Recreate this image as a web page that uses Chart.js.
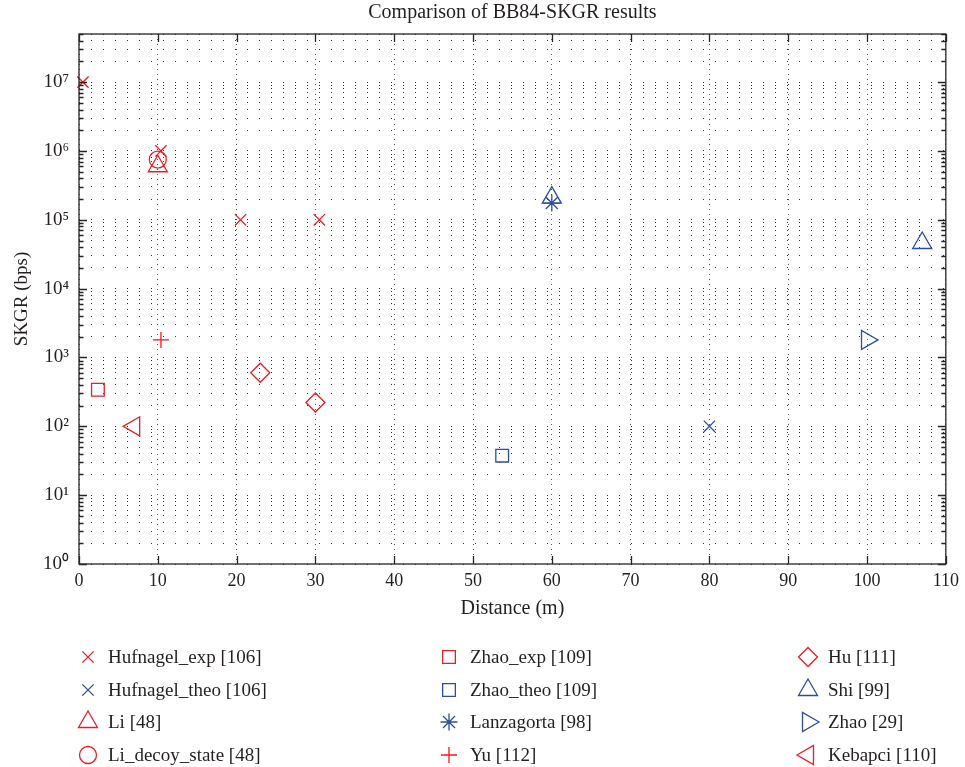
<!DOCTYPE html>
<html>
<head>
<meta charset="utf-8">
<script src="https://cdn.jsdelivr.net/npm/chart.js@4.4.0/dist/chart.umd.min.js"></script>
<style>
  html, body { margin: 0; padding: 0; background: #fff; }
  #wrap { width: 965px; height: 767px; }
</style>
</head>
<body>
<div id="wrap"><canvas id="skgr"></canvas></div>
<script>
// valeurs (distance en m, SKGR en bps)
const hufExpX = [0.5, 10.4, 20.5, 30.5];
const hufExpY = [1e7, 1e6, 1e5, 1e5];
const hufTheoX = [80];
const hufTheoY = [100];
const liX = [10];
const liY = [6e5];
const liDecoyX = [10];
const liDecoyY = [7.5e5];
const zhaoExpX = [2.4];
const zhaoExpY = [340];
const zhaoTheoX = [53.7];
const zhaoTheoY = [37.5];
const lanzX = [60];
const lanzY = [1.75e5];
const yuX = [10.4];
const yuY = [1.8e3];
const huX = [23, 30];
const huY = [600, 222];
const shiX = [60, 107];
const shiY = [2.1e5, 4.6e4];
const zhaoX = [100];
const zhaoY = [1.8e3];
const kebX = [7];
const kebY = [100];

const xTicks = [0, 10, 20, 30, 40, 50, 60, 70, 80, 90, 100, 110];
const yMin = 1;
const yMax = 5e7;
const titre = 'Comparison of BB84-SKGR results';

const RED = '#ec1c24';
const BLUE = '#2f4d9e';
const TXT = '#231f20';
const FONT = '"Liberation Serif", "Times New Roman", serif';
const SUP = ['\u2070', '\u00b9', '\u00b2', '\u00b3', '\u2074', '\u2075', '\u2076', '\u2077', '\u2078', '\u2079'];

function pts(xs, ys) {
    return xs.map((x, i) => ({x: x, y: ys[i]}));
}

function serie(label, xs, ys, color, style, radius, rotation) {
    return {
        label: label,
        data: pts(xs, ys),
        borderColor: color,
        backgroundColor: 'rgba(0,0,0,0)',
        pointStyle: style,
        pointRadius: radius,
        pointRotation: rotation || 0,
        pointBorderWidth: 1.3,
        clip: false
    };
}

const datasets = [
    serie('Hufnagel_exp [106]', hufExpX, hufExpY, RED, 'crossRot', 8),
    serie('Hufnagel_theo [106]', hufTheoX, hufTheoY, BLUE, 'crossRot', 8),
    serie('Li [48]', liX, liY, RED, 'triangle', 11),
    serie('Li_decoy_state [48]', liDecoyX, liDecoyY, RED, 'circle', 8.5),
    serie('Zhao_exp [109]', zhaoExpX, zhaoExpY, RED, 'rect', 9),
    serie('Zhao_theo [109]', zhaoTheoX, zhaoTheoY, BLUE, 'rect', 9),
    serie('Lanzagorta [98]', lanzX, lanzY, BLUE, 'star', 8.5),
    serie('Yu [112]', yuX, yuY, RED, 'cross', 8),
    serie('Hu [111]', huX, huY, RED, 'rectRot', 9.5),
    serie('Shi [99]', shiX, shiY, BLUE, 'triangle', 11),
    serie('Zhao [29]', zhaoX, zhaoY, BLUE, 'triangle', 11, 90),
    serie('Kebapci [110]', kebX, kebY, RED, 'triangle', 11, -90)
];

// cadre + graduations vers l'interieur (style matlab) + titre centre sur la zone
const framePlugin = {
    id: 'frame',
    afterDatasetsDraw(chart) {
        const ctx = chart.ctx;
        const a = chart.chartArea;
        const xs = chart.scales.x;
        const ys = chart.scales.y;
        ctx.save();
        ctx.strokeStyle = '#262626';
        ctx.lineWidth = 1.3;
        ctx.beginPath();
        for (const t of ys.ticks) {
            const y = Math.round(ys.getPixelForValue(t.value)) + 0.5;
            const major = Number.isInteger(Math.log10(t.value));
            const len = major ? 8 : 4.5;
            ctx.moveTo(a.left, y);
            ctx.lineTo(a.left + len, y);
            ctx.moveTo(a.right, y);
            ctx.lineTo(a.right - len, y);
        }
        for (const v of xTicks) {
            const x = Math.round(xs.getPixelForValue(v)) + 0.5;
            ctx.moveTo(x, a.bottom);
            ctx.lineTo(x, a.bottom - 8);
            ctx.moveTo(x, a.top);
            ctx.lineTo(x, a.top + 8);
        }
        ctx.stroke();
        ctx.strokeRect(a.left, a.top, a.right - a.left, a.bottom - a.top);

        ctx.fillStyle = TXT;
        ctx.font = '20px ' + FONT;
        ctx.textAlign = 'center';
        ctx.textBaseline = 'middle';
        ctx.fillText(titre, (a.left + a.right) / 2, 13);
        ctx.restore();
    }
};

// legende en 3 colonnes sous le graphique
const legendPlugin = {
    id: 'colLegend',
    afterDraw(chart) {
        const ctx = chart.ctx;
        const markX = [88, 449, 808];
        const textX = [108, 470, 828];
        const rowY = [657, 690, 722, 755];
        ctx.save();
        ctx.font = '19px ' + FONT;
        ctx.textBaseline = 'middle';
        ctx.textAlign = 'left';
        chart.data.datasets.forEach((ds, i) => {
            const col = Math.floor(i / 4);
            const row = i % 4;
            ctx.strokeStyle = ds.borderColor;
            ctx.fillStyle = 'rgba(0,0,0,0)';
            ctx.lineWidth = 1.3;
            Chart.helpers.drawPoint(ctx, {
                pointStyle: ds.pointStyle,
                rotation: ds.pointRotation,
                radius: ds.pointRadius,
                borderWidth: 1.3
            }, markX[col], rowY[row]);
            ctx.fillStyle = TXT;
            ctx.fillText(ds.label, textX[col], rowY[row] + 1);
        });
        ctx.restore();
    }
};

const ctx = document.getElementById('skgr').getContext('2d');
new Chart(ctx, {
    type: 'scatter',
    data: {datasets: datasets},
    plugins: [framePlugin, legendPlugin],
    options: {
        responsive: true,
        maintainAspectRatio: false,
        animation: false,
        events: [],
        layout: {padding: {left: 0, right: 18, top: 34, bottom: 133}},
        plugins: {
            legend: {display: false},
            tooltip: {enabled: false},
            title: {display: false}
        },
        scales: {
            x: {
                type: 'linear',
                min: 0,
                max: 110,
                afterBuildTicks: (scale) => {
                    scale.ticks = xTicks.map(v => ({value: v}));
                },
                afterFit: (scale) => { scale.height = 70; },
                ticks: {
                    color: TXT,
                    font: {family: FONT, size: 18},
                    padding: 6,
                    maxRotation: 0,
                    autoSkip: false
                },
                grid: {
                    color: '#555',
                    lineWidth: 1,
                    drawTicks: false
                },
                border: {display: false, dash: [1, 4]},
                title: {
                    display: true,
                    text: 'Distance (m)',
                    color: TXT,
                    font: {family: FONT, size: 20},
                    padding: {top: 0, bottom: 13}
                }
            },
            y: {
                type: 'logarithmic',
                min: yMin,
                max: yMax,
                afterBuildTicks: (scale) => {
                    const t = [];
                    for (let e = 0; e <= 7; e++) {
                        for (let m = 1; m <= 9; m++) {
                            const v = m * Math.pow(10, e);
                            if (v <= yMax) t.push({value: v});
                        }
                    }
                    scale.ticks = t;
                },
                afterFit: (scale) => { scale.width = 79; },
                ticks: {
                    color: TXT,
                    font: {family: FONT, size: 19},
                    padding: 10,
                    autoSkip: false,
                    callback: (v) => {
                        const e = Math.log10(v);
                        if (Math.abs(e - Math.round(e)) < 1e-9 && Math.round(e) <= 7) {
                            return '10' + SUP[Math.round(e)];
                        }
                        return '';
                    }
                },
                grid: {
                    color: '#333',
                    lineWidth: 1,
                    drawTicks: false
                },
                border: {display: false, dash: [1, 11]},
                title: {
                    display: true,
                    text: 'SKGR (bps)',
                    color: TXT,
                    font: {family: FONT, size: 19},
                    padding: {top: 11, bottom: 0}
                }
            }
        }
    }
});
</script>
</body>
</html>
